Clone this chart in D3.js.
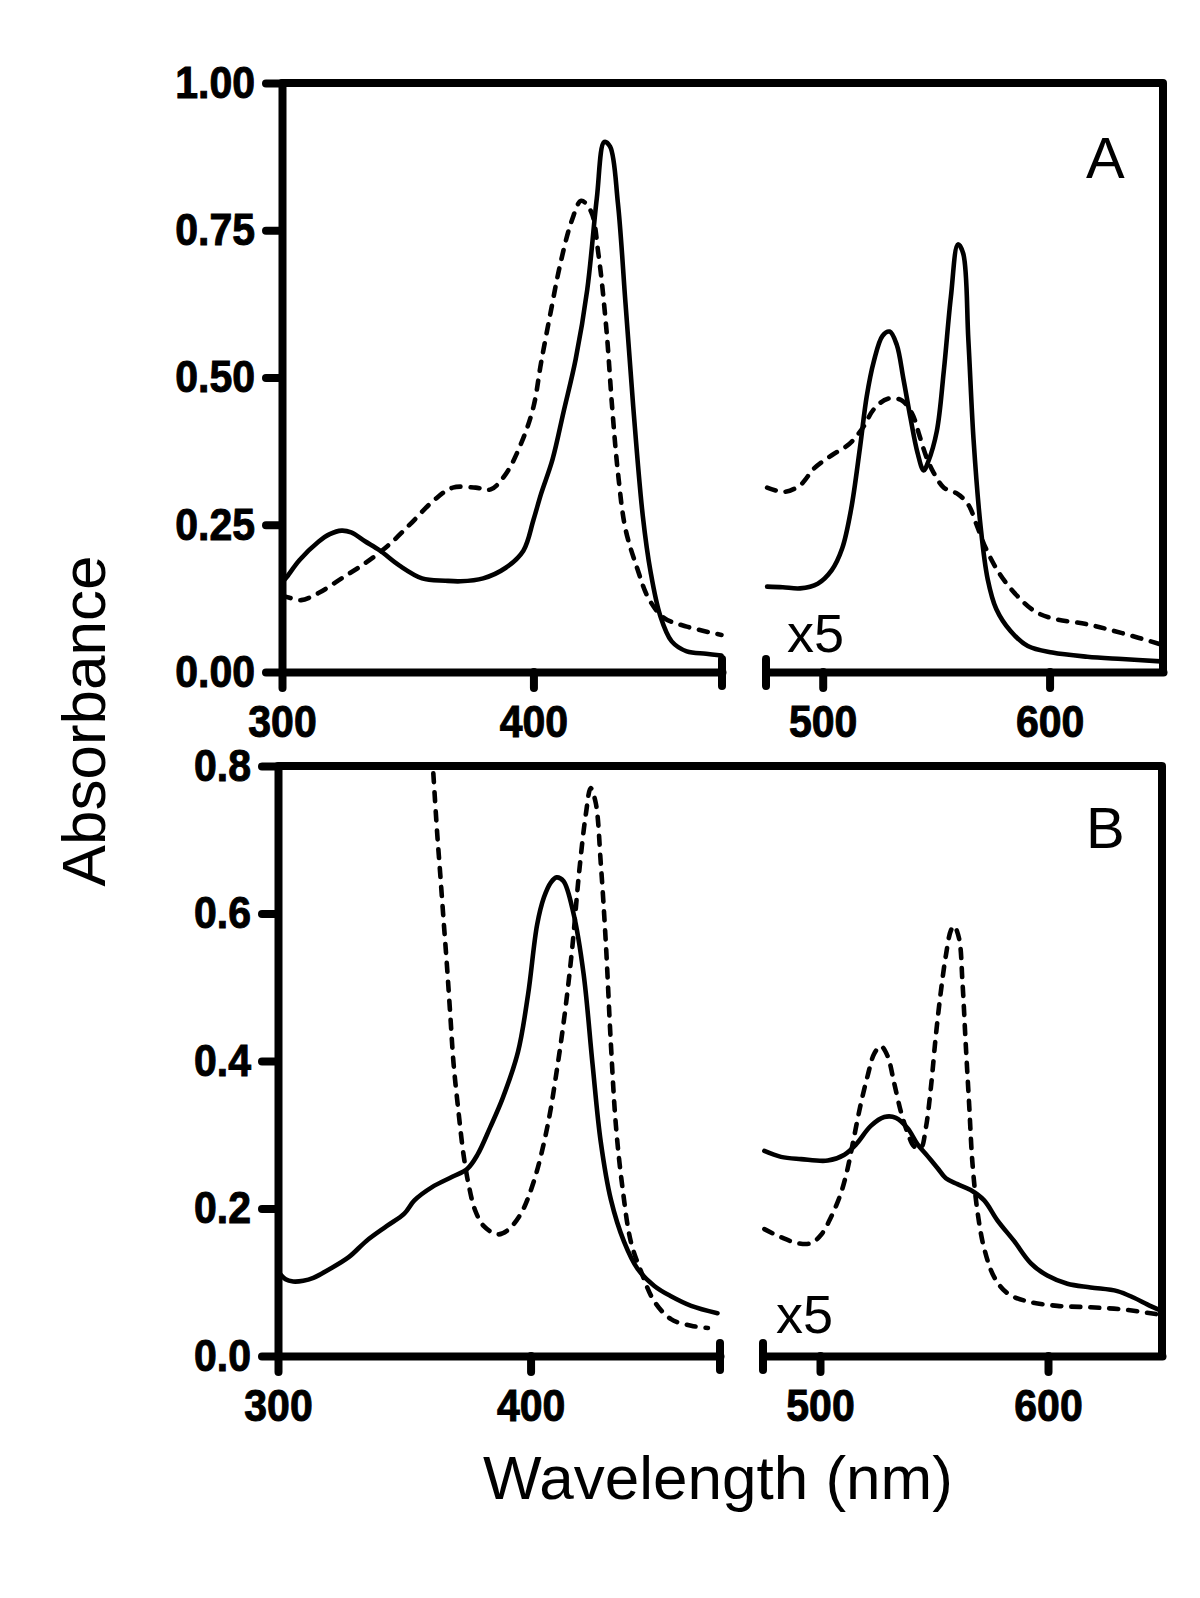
<!DOCTYPE html>
<html><head><meta charset="utf-8">
<script src="https://cdn.jsdelivr.net/npm/d3@7"></script>
<style>
html,body{margin:0;padding:0;background:#fff;}
svg text{font-family:"Liberation Sans",Arial,sans-serif;fill:#000;}
</style></head>
<body><svg id="chart" width="1200" height="1598"></svg>
<script>
// ---------- data ----------
const xTicksLeft = [300, 400];
const xTicksRight = [500, 600];
const yTicksA = [0, 0.25, 0.5, 0.75, 1.0];
const yTickLabelsA = ["0.00", "0.25", "0.50", "0.75", "1.00"];
const yTicksB = [0, 0.2, 0.4, 0.6, 0.8];
const yTickLabelsB = ["0.0", "0.2", "0.4", "0.6", "0.8"];
const breakAt = 475;

// Panel A, left segment (300-475 nm)
const aSolidLeft = [[300,0.152],[301.5,0.159],[307,0.19],[314.5,0.221],[319,0.234],[323.7,0.240],[327.5,0.237],[333,0.222],[339,0.206],[346.6,0.181],[355.7,0.159],[364.9,0.155],[371,0.154],[380,0.159],[389,0.177],[396,0.206],[400,0.258],[403,0.302],[407.6,0.361],[412,0.442],[416.8,0.531],[421.4,0.649],[425.2,0.804],[428.2,0.900],[430.5,0.892],[433.6,0.796],[436.6,0.627],[439.7,0.450],[443.5,0.265],[446.6,0.170],[450.4,0.096],[455,0.052],[461,0.035],[468.7,0.031],[474.8,0.028]];
const aDashedLeft = [[300,0.13],[303,0.126],[307.6,0.122],[314.5,0.134],[323.7,0.159],[332.8,0.184],[342,0.214],[351,0.251],[360.3,0.291],[367.9,0.313],[377,0.313],[383,0.31],[389,0.336],[395.4,0.391],[400,0.45],[403,0.524],[406.9,0.612],[410.7,0.693],[415.3,0.767],[419,0.800],[422.9,0.782],[425.9,0.708],[429,0.583],[431.3,0.45],[433.6,0.339],[436.6,0.243],[441.2,0.177],[445.8,0.125],[451.9,0.092],[461,0.077],[474.8,0.063]];
// Panel A, right segment (475-650 nm, x5)
const aSolidRight = [[475.5,0.145],[482.4,0.144],[490,0.142],[497.8,0.150],[504,0.173],[508.6,0.21],[512.5,0.276],[516.4,0.38],[519.4,0.468],[522.5,0.527],[526.4,0.571],[529.5,0.578],[532.6,0.556],[535.6,0.497],[538.7,0.431],[541.8,0.372],[544.5,0.342],[546.5,0.357],[550.3,0.409],[553.4,0.512],[556.5,0.637],[559.6,0.726],[561.9,0.711],[564.2,0.564],[566.5,0.394],[569.6,0.247],[572.7,0.158],[576.5,0.107],[582.7,0.07],[590.4,0.044],[601.2,0.033],[616.6,0.026],[632,0.022],[649,0.018]];
const aDashedRight = [[475.5,0.313],[483.2,0.306],[490,0.317],[496.3,0.346],[504,0.368],[511.7,0.387],[517.9,0.416],[522.5,0.446],[528.7,0.464],[534.9,0.461],[539.5,0.438],[542.6,0.402],[545.7,0.365],[548.8,0.339],[553.4,0.313],[559.6,0.302],[564.2,0.284],[568.1,0.247],[571.9,0.21],[578.1,0.166],[585.8,0.129],[593.5,0.103],[601.2,0.091],[616.6,0.081],[632,0.066],[649,0.047]];

// Panel B, left segment
const bSolidLeft = [[300,0.115],[303,0.104],[306,0.101],[310,0.102],[314,0.106],[320,0.117],[328,0.134],[335,0.156],[343,0.176],[350,0.193],[354,0.211],[361,0.229],[369,0.243],[375,0.254],[379,0.273],[384,0.31],[389,0.35],[395,0.412],[399,0.49],[402.6,0.585],[405.3,0.622],[408,0.642],[410.3,0.649],[413,0.644],[417,0.6],[421,0.518],[424.5,0.397],[427.8,0.29],[431.8,0.212],[437,0.155],[442.4,0.118],[449,0.095],[455.6,0.081],[463.6,0.068],[474,0.058]];
const bDashedLeft = [[361.5,0.79],[363,0.71],[364.2,0.655],[365.6,0.589],[366.9,0.529],[368.2,0.463],[369.5,0.397],[371.5,0.33],[373.5,0.272],[375.5,0.232],[378,0.198],[381.5,0.176],[386.8,0.165],[390.7,0.17],[396,0.192],[401.3,0.237],[406.6,0.31],[410.6,0.392],[413.9,0.474],[416.6,0.557],[419.2,0.655],[421.9,0.735],[423.8,0.77],[425.8,0.75],[427.8,0.668],[429.8,0.56],[431.8,0.423],[433.8,0.312],[436.4,0.228],[439.7,0.155],[443.7,0.115],[449,0.074],[455.6,0.05],[463.6,0.041],[470.2,0.038]];
// Panel B, right segment (x5)
const bSolidRight = [[475.6,0.278],[482.9,0.27],[491.7,0.267],[503.4,0.265],[510.7,0.273],[515.8,0.287],[522.3,0.312],[528.2,0.324],[533.3,0.323],[538.4,0.309],[542.8,0.287],[547.2,0.271],[551.5,0.255],[555.2,0.241],[560.3,0.233],[566.1,0.225],[572,0.211],[577.8,0.184],[585.1,0.156],[592.4,0.126],[599.7,0.109],[608.5,0.098],[618.7,0.093],[630.4,0.088],[637.7,0.079],[643.5,0.07],[649,0.062]];
const bDashedRight = [[475.6,0.172],[482.9,0.161],[490.2,0.153],[496.1,0.153],[500.4,0.164],[504.8,0.188],[509.2,0.221],[512.1,0.254],[515,0.298],[517.9,0.342],[520.9,0.38],[523.8,0.41],[526.7,0.42],[529.6,0.407],[532.6,0.369],[535.5,0.331],[538.4,0.303],[541.3,0.284],[544.2,0.282],[546.4,0.309],[548.6,0.363],[550.8,0.434],[553,0.494],[555.2,0.543],[557.4,0.577],[558.8,0.583],[561,0.566],[562.5,0.506],[563.9,0.424],[565.4,0.342],[566.9,0.26],[569.1,0.195],[572,0.146],[576.4,0.107],[582.2,0.085],[591,0.074],[604.1,0.068],[618.7,0.066],[633.3,0.063],[649,0.056]];

// ---------- layout ----------
const svg = d3.select("#chart");
const AXW = 8, LW = 4.6, DASH = "9,10";
const panels = [
  {id:"A", left:[282,722], right:[766,1163], y0:672, y1:83, yDom:[0,1.0], yTicks:yTicksA, yLabels:yTickLabelsA,
   solidL:aSolidLeft, dashL:aDashedLeft, solidR:aSolidRight, dashR:aDashedRight,
   letter:[1086,178], x5:[787,652]},
  {id:"B", left:[278,720], right:[763,1162], y0:1356, y1:766, yDom:[0,0.8], yTicks:yTicksB, yLabels:yTickLabelsB,
   solidL:bSolidLeft, dashL:bDashedLeft, solidR:bSolidRight, dashR:bDashedRight,
   letter:[1086,848], x5:[776,1333]}
];

const tickFont = "bold 41px 'Liberation Sans', Arial, sans-serif";
const TSY = 1.1; // tick labels are slightly tall/narrow in the reference

panels.forEach(p => {
  const xL = d3.scaleLinear().domain([300, breakAt]).range(p.left);
  const xR = d3.scaleLinear().domain([breakAt, 650]).range(p.right);
  const y = d3.scaleLinear().domain(p.yDom).range([p.y0, p.y1]);
  const g = svg.append("g");

  // frame (top + right)
  g.append("path")
    .attr("d", `M${xL(300)},${y(p.yDom[1])}H${xR(650)}V${y(0)}`)
    .attr("fill","none").attr("stroke","#000").attr("stroke-width",AXW)
    .attr("stroke-linejoin","round").attr("stroke-linecap","round");

  // y axis
  const yAxis = d3.axisLeft(y).tickValues(p.yTicks).tickSize(16).tickSizeOuter(0).tickPadding(11)
    .tickFormat((d,i) => p.yLabels[i]);
  const gy = g.append("g").attr("transform",`translate(${xL(300)},0)`).call(yAxis);

  // x axes (two segments)
  const xAxisL = d3.axisBottom(xL).tickValues(xTicksLeft).tickSize(16).tickSizeOuter(0).tickPadding(14);
  const xAxisR = d3.axisBottom(xR).tickValues(xTicksRight).tickSize(16).tickSizeOuter(0).tickPadding(14);
  const gxL = g.append("g").attr("transform",`translate(0,${y(0)})`).call(xAxisL);
  const gxR = g.append("g").attr("transform",`translate(0,${y(0)})`).call(xAxisR);

  [gy, gxL, gxR].forEach(ax => {
    ax.select(".domain").attr("stroke","#000").attr("stroke-width",AXW).attr("stroke-linecap","round");
    ax.selectAll(".tick line").attr("stroke","#000").attr("stroke-width",AXW).attr("stroke-linecap","round");
    ax.selectAll(".tick text").attr("fill","#000").attr("stroke","#000").attr("stroke-width",0.9)
      .attr("transform",`scale(1,${TSY})`).style("font",tickFont);
  });

  // break ticks
  [xL(breakAt), xR(breakAt)].forEach(bx => {
    g.append("line").attr("x1",bx).attr("x2",bx).attr("y1",y(0)-13).attr("y2",y(0)+14)
      .attr("stroke","#000").attr("stroke-width",AXW).attr("stroke-linecap","round");
  });

  // data lines
  const lineL = d3.line().x(d=>xL(d[0])).y(d=>y(d[1])).curve(d3.curveCatmullRom.alpha(0.5));
  const lineR = d3.line().x(d=>xR(d[0])).y(d=>y(d[1])).curve(d3.curveCatmullRom.alpha(0.5));
  const draw = (data, gen, dashed) => {
    g.append("path").datum(data).attr("d",gen)
      .attr("fill","none").attr("stroke","#000").attr("stroke-width",LW)
      .attr("stroke-linejoin","round").attr("stroke-linecap","round")
      .attr("stroke-dasharray", dashed ? DASH : null);
  };
  draw(p.dashL, lineL, true);
  draw(p.solidL, lineL, false);
  draw(p.dashR, lineR, true);
  draw(p.solidR, lineR, false);

  // panel letter & x5
  g.append("text").attr("x",p.letter[0]).attr("y",p.letter[1]).style("font","58px 'Liberation Sans', Arial, sans-serif").text(p.id);
  g.append("text").attr("x",p.x5[0]).attr("y",p.x5[1]).style("font","54px 'Liberation Sans', Arial, sans-serif").text("x5");
});

// axis titles
svg.append("text").attr("transform","translate(105,721) rotate(-90)").attr("text-anchor","middle")
  .style("font","62px 'Liberation Sans', Arial, sans-serif").text("Absorbance");
svg.append("text").attr("x",718).attr("y",1499).attr("text-anchor","middle")
  .style("font","62px 'Liberation Sans', Arial, sans-serif").text("Wavelength (nm)");
</script></body></html>
